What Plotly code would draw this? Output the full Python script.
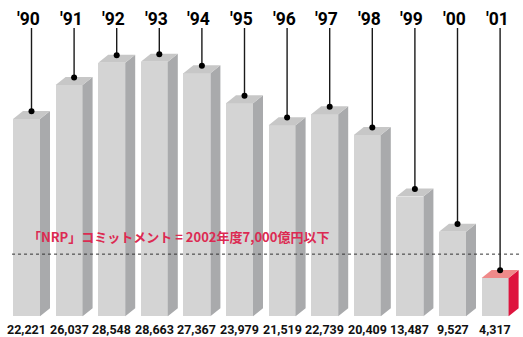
import plotly.graph_objects as go

# Fiscal-year disposal amounts (100 million yen)
years = ["'90", "'91", "'92", "'93", "'94", "'95", "'96", "'97", "'98", "'99", "'00", "'01"]
values = [22221, 26037, 28548, 28663, 27367, 23979, 21519, 22739, 20409, 13487, 9527, 4317]
value_labels = ["22,221", "26,037", "28,548", "28,663", "27,367", "23,979",
                "21,519", "22,739", "20,409", "13,487", "9,527", "4,317"]
target_value = 7000
target_text = "「NRP」コミットメント = 2002年度7,000億円以下"

W, H = 523, 337
# pixel geometry of the canvas
x0_px, step_px = 26.5, 42.6          # centre of first bar face, spacing between bars
zero_px, px_per_unit = 316.3, 0.008881
face_px, depth_x_px, depth_y_px = 27, 10, 8

x_range = [-x0_px / step_px, (W - x0_px) / step_px]
y_range = [-(H - zero_px) / px_per_unit, zero_px / px_per_unit]

half = face_px / step_px / 2
dx = depth_x_px / step_px
dy = depth_y_px / px_per_unit


def y_at_px(py):
    return (zero_px - py) / px_per_unit


FRONT = "#d4d4d4"
SIDE = "#a9aaac"
TOP = "#c7c7c7"
RED_TOP = "#ef8a8a"
RED_SIDE = "#de143e"

fig = go.Figure()

# front faces
fig.add_trace(go.Bar(x=list(range(len(values))), y=values, width=2 * half,
                     marker=dict(color=FRONT, line=dict(width=0)),
                     hoverinfo="skip", showlegend=False))


def faces(indices):
    sx, sy, tx, ty = [], [], [], []
    for i in indices:
        v = values[i]
        xl, xr = i - half, i + half
        sx += [xr, xr, xr + dx, xr + dx, xr, None]
        sy += [0, v, v + dy, dy, 0, None]
        tx += [xl, xl + dx, xr + dx, xr, xl, None]
        ty += [v, v + dy, v + dy, v, v, None]
    return sx, sy, tx, ty


last = len(values) - 1
gsx, gsy, gtx, gty = faces(range(last))
rsx, rsy, rtx, rty = faces([last])
for xs, ys, col in [(gsx, gsy, SIDE), (gtx, gty, TOP), (rsx, rsy, RED_SIDE), (rtx, rty, RED_TOP)]:
    fig.add_trace(go.Scatter(x=xs, y=ys, mode="lines", fill="toself", fillcolor=col,
                             line=dict(width=0, color=col), hoverinfo="skip", showlegend=False))

# leader lines and dots
line_top = y_at_px(28)
lx, ly, dxs, dys = [], [], [], []
for i, v in enumerate(values):
    px = i + dx / 2
    py = v + dy * 0.95
    lx += [px, px, None]
    ly += [py, line_top, None]
    dxs.append(px)
    dys.append(py)
fig.add_trace(go.Scatter(x=lx, y=ly, mode="lines", line=dict(color="#1a1a1a", width=1.4),
                         hoverinfo="skip", showlegend=False))
fig.add_trace(go.Scatter(x=dxs, y=dys, mode="markers", marker=dict(color="#000", size=6),
                         hoverinfo="skip", showlegend=False))

# target line
fig.add_trace(go.Scatter(x=[-0.34, 11.6], y=[target_value, target_value], mode="lines",
                         line=dict(color="#333", width=1, dash="dot"),
                         hoverinfo="skip", showlegend=False))

cond = "Roboto"
annotations = []
for i, (yr, lab) in enumerate(zip(years, value_labels)):
    annotations.append(dict(x=i, y=y_at_px(19), text=f"<b>{yr}</b>", showarrow=False,
                            xshift=2, font=dict(family=cond, size=17.5, color="#000")))
    annotations.append(dict(x=i, y=y_at_px(329), text=f"<b>{lab}</b>", showarrow=False,
                            borderpad=0, font=dict(family=cond, size=12.5, color="#111")))
annotations.append(dict(x=-0.02, y=target_value, yshift=18, text=target_text, showarrow=False,
                        xanchor="left", yanchor="middle",
                        font=dict(family="Noto Sans CJK JP", size=13, color="#dc2a52", weight="bold")))

fig.update_layout(
    width=W, height=H, margin=dict(l=0, r=0, t=0, b=0),
    paper_bgcolor="white", plot_bgcolor="white",
    xaxis=dict(range=x_range, visible=False, fixedrange=True),
    yaxis=dict(range=y_range, visible=False, fixedrange=True),
    annotations=annotations, bargap=0,
)

fig.write_html("out.html")
